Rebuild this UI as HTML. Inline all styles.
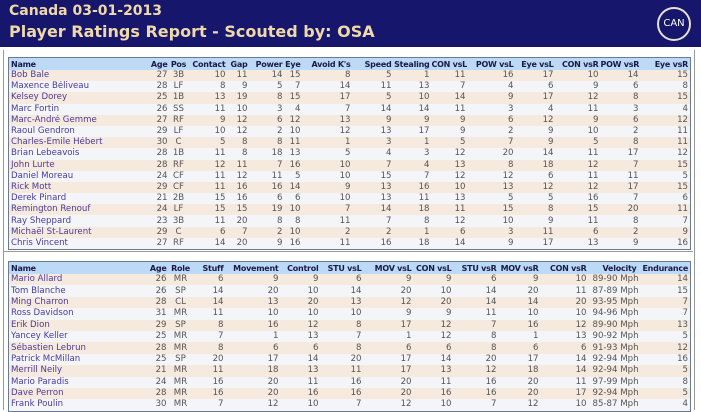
<!DOCTYPE html>
<html><head><meta charset="utf-8"><style>
body{margin:0;width:701px;height:411px;background:#fff;position:relative;overflow:hidden;font-family:"DejaVu Sans","Liberation Sans",sans-serif}
.hdr{position:absolute;left:0;top:0;width:701px;height:47px;background:#16166c}
.t1{position:absolute;left:9px;top:3px;color:#f0d9a8;font:bold 14px "DejaVu Sans",sans-serif}
.t2{position:absolute;left:9px;top:22px;color:#f0d9a8;font:bold 16px "DejaVu Sans",sans-serif}
.logo{position:absolute;left:657px;top:7px;width:30px;height:30px;border:2px solid #e8e0d0;border-radius:50%;color:#fff;font:10px "DejaVu Sans",sans-serif;text-align:center;line-height:30px}
.frame{position:absolute;left:3px;top:50px;width:690px;height:360px;border-left:1px solid #999;border-right:1px solid #999}
table{position:absolute;left:8px;border-collapse:collapse;table-layout:fixed;font-size:8.6px;border:1px solid #6a7a90}
td,th{padding:0 2px 0 0;height:11.2px;line-height:11px;white-space:nowrap;overflow:hidden;text-align:right;color:#555}
th{background:#bcd9f5;color:#1a1a4a;font-weight:bold;font-size:8px;letter-spacing:-0.25px;height:12px}
td:first-child,th:first-child{text-align:left;padding-left:2px;color:#4a3a9a}
th:first-child{color:#1a1a4a}
tr:nth-child(even) td{background:#f6e9dd}
tr:nth-child(odd) td{background:#f3f5f9}
.b td{height:11.4px}
.c{text-align:center}
.v{text-align:left!important;padding-left:4px}
</style></head><body>
<div class="hdr"><div class="t1">Canada 03-01-2013</div><div class="t2">Player Ratings Report - Scouted by: OSA</div><div class="logo">CAN</div></div>
<div class="frame"></div>
<div style="position:absolute;left:3px;top:251px;width:690px;border-top:1px solid #999"></div>
<table style="top:57px;width:682px">
<colgroup><col style="width:137px"><col style="width:24px"><col style="width:20px"><col style="width:38px"><col style="width:22px"><col style="width:35px"><col style="width:18px"><col style="width:50px"><col style="width:41px"><col style="width:38px"><col style="width:36px"><col style="width:48px"><col style="width:40px"><col style="width:45px"><col style="width:40px"><col style="width:50px"></colgroup>
<tr><th>Name</th><th>Age</th><th class="c">Pos</th><th>Contact</th><th>Gap</th><th>Power</th><th>Eye</th><th>Avoid K's</th><th>Speed</th><th>Stealing</th><th>CON vsL</th><th>POW vsL</th><th>Eye vsL</th><th>CON vsR</th><th>POW vsR</th><th>Eye vsR</th></tr>
<tr><td>Bob Bale</td><td>27</td><td class="c">3B</td><td>10</td><td>11</td><td>14</td><td>15</td><td>8</td><td>5</td><td>1</td><td>11</td><td>16</td><td>17</td><td>10</td><td>14</td><td>15</td></tr>
<tr><td>Maxence Béliveau</td><td>28</td><td class="c">LF</td><td>8</td><td>9</td><td>5</td><td>7</td><td>14</td><td>11</td><td>13</td><td>7</td><td>4</td><td>6</td><td>9</td><td>6</td><td>8</td></tr>
<tr><td>Kelsey Dorey</td><td>25</td><td class="c">1B</td><td>13</td><td>19</td><td>8</td><td>15</td><td>17</td><td>5</td><td>10</td><td>14</td><td>9</td><td>17</td><td>12</td><td>8</td><td>15</td></tr>
<tr><td>Marc Fortin</td><td>26</td><td class="c">SS</td><td>11</td><td>10</td><td>3</td><td>4</td><td>7</td><td>14</td><td>14</td><td>11</td><td>3</td><td>4</td><td>11</td><td>3</td><td>4</td></tr>
<tr><td>Marc-André Gemme</td><td>27</td><td class="c">RF</td><td>9</td><td>12</td><td>6</td><td>12</td><td>13</td><td>9</td><td>9</td><td>9</td><td>6</td><td>12</td><td>9</td><td>6</td><td>12</td></tr>
<tr><td>Raoul Gendron</td><td>29</td><td class="c">LF</td><td>10</td><td>12</td><td>2</td><td>10</td><td>12</td><td>13</td><td>17</td><td>9</td><td>2</td><td>9</td><td>10</td><td>2</td><td>11</td></tr>
<tr><td>Charles-Émile Hébert</td><td>30</td><td class="c">C</td><td>5</td><td>8</td><td>8</td><td>11</td><td>1</td><td>3</td><td>1</td><td>5</td><td>7</td><td>9</td><td>5</td><td>8</td><td>11</td></tr>
<tr><td>Brian Lebeavois</td><td>28</td><td class="c">1B</td><td>11</td><td>8</td><td>18</td><td>13</td><td>5</td><td>4</td><td>3</td><td>12</td><td>20</td><td>14</td><td>11</td><td>17</td><td>12</td></tr>
<tr><td>John Lurte</td><td>28</td><td class="c">RF</td><td>12</td><td>11</td><td>7</td><td>16</td><td>10</td><td>7</td><td>4</td><td>13</td><td>8</td><td>18</td><td>12</td><td>7</td><td>15</td></tr>
<tr><td>Daniel Moreau</td><td>24</td><td class="c">CF</td><td>11</td><td>12</td><td>11</td><td>5</td><td>10</td><td>15</td><td>7</td><td>12</td><td>12</td><td>6</td><td>11</td><td>11</td><td>5</td></tr>
<tr><td>Rick Mott</td><td>29</td><td class="c">CF</td><td>11</td><td>16</td><td>16</td><td>14</td><td>9</td><td>13</td><td>16</td><td>10</td><td>13</td><td>12</td><td>12</td><td>17</td><td>15</td></tr>
<tr><td>Derek Pinard</td><td>21</td><td class="c">2B</td><td>15</td><td>16</td><td>6</td><td>6</td><td>10</td><td>13</td><td>11</td><td>13</td><td>5</td><td>5</td><td>16</td><td>7</td><td>6</td></tr>
<tr><td>Remington Renouf</td><td>24</td><td class="c">LF</td><td>15</td><td>15</td><td>19</td><td>10</td><td>7</td><td>14</td><td>18</td><td>11</td><td>15</td><td>8</td><td>15</td><td>20</td><td>11</td></tr>
<tr><td>Ray Sheppard</td><td>23</td><td class="c">3B</td><td>11</td><td>20</td><td>8</td><td>8</td><td>11</td><td>7</td><td>8</td><td>12</td><td>10</td><td>9</td><td>11</td><td>8</td><td>7</td></tr>
<tr><td>Michaël St-Laurent</td><td>29</td><td class="c">C</td><td>6</td><td>7</td><td>2</td><td>10</td><td>2</td><td>2</td><td>1</td><td>6</td><td>3</td><td>11</td><td>6</td><td>2</td><td>9</td></tr>
<tr><td>Chris Vincent</td><td>27</td><td class="c">RF</td><td>14</td><td>20</td><td>9</td><td>16</td><td>11</td><td>16</td><td>18</td><td>14</td><td>9</td><td>17</td><td>13</td><td>9</td><td>16</td></tr>
</table>
<table class="b" style="top:261px;width:682px">
<colgroup><col style="width:138px"><col style="width:22px"><col style="width:26px"><col style="width:31px"><col style="width:55px"><col style="width:40px"><col style="width:43px"><col style="width:50px"><col style="width:40px"><col style="width:45px"><col style="width:42px"><col style="width:48px"><col style="width:50px"><col style="width:52px"></colgroup>
<tr><th>Name</th><th>Age</th><th class="c">Role</th><th>Stuff</th><th>Movement</th><th>Control</th><th>STU vsL</th><th>MOV vsL</th><th>CON vsL</th><th>STU vsR</th><th>MOV vsR</th><th>CON vsR</th><th>Velocity</th><th>Endurance</th></tr>
<tr><td>Mario Allard</td><td>26</td><td class="c">MR</td><td>6</td><td>9</td><td>9</td><td>6</td><td>9</td><td>9</td><td>6</td><td>9</td><td>10</td><td class="v">89-90 Mph</td><td>14</td></tr>
<tr><td>Tom Blanche</td><td>26</td><td class="c">SP</td><td>14</td><td>20</td><td>10</td><td>14</td><td>20</td><td>10</td><td>14</td><td>20</td><td>11</td><td class="v">87-89 Mph</td><td>15</td></tr>
<tr><td>Ming Charron</td><td>28</td><td class="c">CL</td><td>14</td><td>13</td><td>20</td><td>13</td><td>12</td><td>20</td><td>14</td><td>14</td><td>20</td><td class="v">93-95 Mph</td><td>7</td></tr>
<tr><td>Ross Davidson</td><td>31</td><td class="c">MR</td><td>11</td><td>10</td><td>10</td><td>10</td><td>9</td><td>9</td><td>11</td><td>10</td><td>10</td><td class="v">94-96 Mph</td><td>7</td></tr>
<tr><td>Érik Dion</td><td>29</td><td class="c">SP</td><td>8</td><td>16</td><td>12</td><td>8</td><td>17</td><td>12</td><td>7</td><td>16</td><td>12</td><td class="v">89-90 Mph</td><td>13</td></tr>
<tr><td>Yancey Keller</td><td>25</td><td class="c">MR</td><td>7</td><td>1</td><td>13</td><td>7</td><td>1</td><td>12</td><td>8</td><td>1</td><td>13</td><td class="v">90-92 Mph</td><td>5</td></tr>
<tr><td>Sébastien Lebrun</td><td>28</td><td class="c">MR</td><td>8</td><td>6</td><td>6</td><td>8</td><td>6</td><td>6</td><td>8</td><td>6</td><td>6</td><td class="v">91-93 Mph</td><td>12</td></tr>
<tr><td>Patrick McMillan</td><td>25</td><td class="c">SP</td><td>20</td><td>17</td><td>14</td><td>20</td><td>17</td><td>14</td><td>20</td><td>17</td><td>14</td><td class="v">92-94 Mph</td><td>16</td></tr>
<tr><td>Merrill Neily</td><td>21</td><td class="c">MR</td><td>11</td><td>18</td><td>13</td><td>11</td><td>17</td><td>13</td><td>12</td><td>18</td><td>14</td><td class="v">92-94 Mph</td><td>5</td></tr>
<tr><td>Mario Paradis</td><td>24</td><td class="c">MR</td><td>16</td><td>20</td><td>11</td><td>16</td><td>20</td><td>11</td><td>16</td><td>20</td><td>11</td><td class="v">97-99 Mph</td><td>8</td></tr>
<tr><td>Dave Perron</td><td>28</td><td class="c">MR</td><td>16</td><td>20</td><td>16</td><td>16</td><td>20</td><td>16</td><td>16</td><td>20</td><td>17</td><td class="v">92-94 Mph</td><td>5</td></tr>
<tr><td>Frank Poulin</td><td>30</td><td class="c">MR</td><td>7</td><td>12</td><td>10</td><td>7</td><td>12</td><td>10</td><td>7</td><td>12</td><td>10</td><td class="v">85-87 Mph</td><td>4</td></tr>
</table>
</body></html>
